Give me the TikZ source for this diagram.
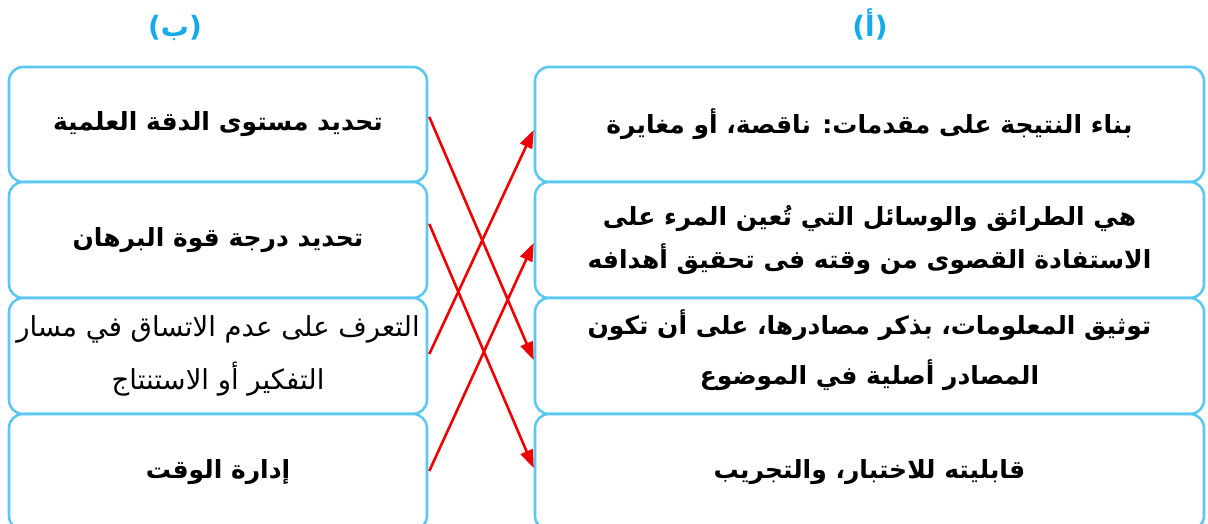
\documentclass[tikz,border=0pt]{standalone}
\usepackage{fontspec}
\usetikzlibrary{arrows.meta}
\TeXXeTstate=1
\newfontfamily\arabicfont[Script=Arabic]{DejaVu Sans}
\definecolor{boxblue}{RGB}{90,200,240}
\definecolor{headblue}{RGB}{20,170,235}
\definecolor{arrred}{RGB}{240,0,0}
\tikzset{
  box/.style={draw=boxblue, line width=2.6pt, rounded corners=14pt, fill=white,
    minimum height=116pt, inner sep=0pt, align=center, font=\arabicfont\bfseries\fontsize{25}{44}\selectfont},
  lbox/.style={box, minimum width=418pt},
  rbox/.style={box, minimum width=669pt},
  head/.style={text=headblue, text height=21pt, text depth=7pt, inner sep=0pt, font=\arabicfont\bfseries\fontsize{28}{30}\selectfont},
  arr/.style={draw=arrred, line width=2.6pt, -{Triangle[length=18pt,width=13pt]}}
}
\begin{document}
\begin{tikzpicture}[x=1pt,y=-1pt]
\useasboundingbox (0,0) rectangle (1208,524);
\node[head] (hb) at (175,30) {\beginR(ب)\endR};
\node[head] (ha) at (870,30) {\beginR(أ)\endR};
% left column
\node[lbox, minimum height=115pt] (l1) at (218,124.5) {\beginR تحديد مستوى الدقة العلمية\endR};
\node[lbox] (l2) at (218,240) {\beginR تحديد درجة قوة البرهان\endR};
\node[lbox, font=\arabicfont\fontsize{27.5}{53}\selectfont] (l3) at (218,356) {\beginR التعرف على عدم الاتساق في مسار\endR\\\beginR التفكير أو الاستنتاج\endR};
\node[lbox] (l4) at (218,472) {\beginR إدارة الوقت\endR};
% right column
\node[rbox, minimum height=115pt] (r1) at (869.5,124.5) {\beginR بناء النتيجة على مقدمات: ناقصة، أو مغايرة\endR};
\node[rbox, font=\arabicfont\bfseries\fontsize{25}{43}\selectfont] (r2) at (869.5,240) {\beginR هي الطرائق والوسائل التي تُعين المرء على\endR\\\beginR الاستفادة القصوى من وقته فى تحقيق أهدافه\endR};
\node[rbox] (r3) at (869.5,356) {};
\node[font=\arabicfont\bfseries\fontsize{25}{50}\selectfont, align=center, inner sep=0pt] (r3t) at (869.5,350) {\beginR توثيق المعلومات، بذكر مصادرها، على أن تكون\endR\\\beginR المصادر أصلية في الموضوع\endR};
\node[rbox] (r4) at (869.5,472) {\beginR قابليته للاختبار، والتجريب\endR};
% connectors
\draw[arr] ([shift={(1,-7.5)}]l1.east) -- ([shift={(0,4)}]r3.west);
\draw[arr] ([shift={(1,-16)}]l2.east) -- ([shift={(0,-4)}]r4.west);
\draw[arr] ([shift={(1,-2)}]l3.east) -- ([shift={(0,5.5)}]r1.west);
\draw[arr] ([shift={(1,-1)}]l4.east) -- ([shift={(0,3)}]r2.west);
\end{tikzpicture}
\end{document}
